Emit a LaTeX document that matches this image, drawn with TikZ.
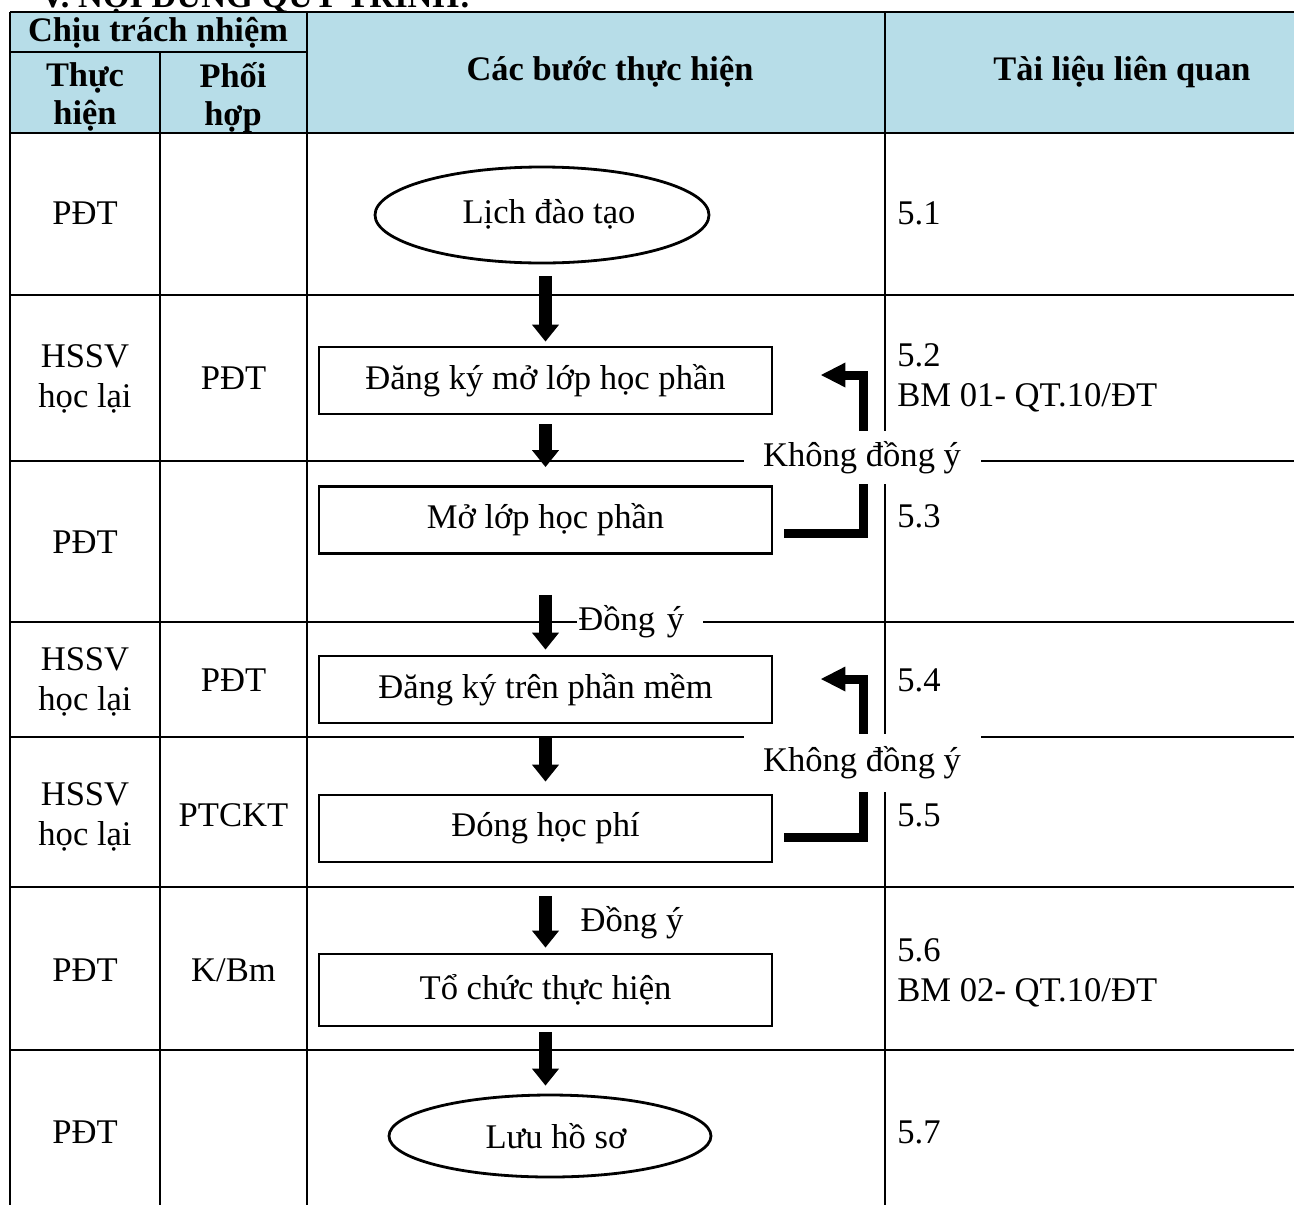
\documentclass[tikz,border=0pt]{standalone}
\usepackage{fontspec}
\setmainfont{Liberation Serif}
\usetikzlibrary{arrows.meta,shapes.geometric}
\definecolor{hdr}{HTML}{B7DDE8}
\begin{document}
\begin{tikzpicture}[x=0.5pt,y=-0.5pt,
  tbl/.style={line width=0.8pt,black},
  txt/.style={font=\fontsize{17.3}{19.8}\selectfont, align=center, inner sep=0pt},
  htxt/.style={font=\bfseries\fontsize{17.2}{19}\selectfont, align=center, inner sep=0pt},
  rtxt/.style={font=\fontsize{17.3}{20}\selectfont, align=left, anchor=west, inner sep=0pt},
  stepbox/.style={draw, line width=1.4pt, rectangle, minimum width=226.5pt, minimum height=33.5pt,
    font=\fontsize{17.3}{19.8}\selectfont, inner sep=0pt},
  term/.style={draw, line width=1.4pt, ellipse, inner sep=0pt, font=\fontsize{17.3}{19.8}\selectfont},
  blk/.style={line width=6.6pt, -{Triangle[width=13pt,length=8.5pt]}},
  fb/.style={line width=4.5pt, line join=miter, -{Triangle[width=11.5pt,length=12.5pt]}},
  lbl/.style={fill=white, inner sep=0pt, font=\fontsize{17.3}{19.8}\selectfont}
]
\useasboundingbox (0,0) rectangle (1294,1205);
% header fill
\fill[hdr] (10,12) rectangle (1294,133);
% title (clipped at top)
\begin{scope}
\clip (0,0) rectangle (1294,11);
\node[anchor=base west, inner sep=0pt, font=\bfseries\fontsize{17.2}{19}\selectfont] (title) at (40,7) {V. NỘI DUNG QUY TRÌNH:};
\end{scope}
% table lines
\draw[tbl] (10,12) -- (1294,12);
\draw[tbl] (10,52) -- (307,52);
\draw[tbl] (10,133) -- (1294,133);
\foreach \yy in {295,461,622,737,887,1050} \draw[tbl] (10,\yy) -- (1294,\yy);
\draw[tbl] (10,12) -- (10,1205);
\draw[tbl] (160,52) -- (160,1205);
\draw[tbl] (307,12) -- (307,1205);
\draw[tbl] (885,12) -- (885,1205);
% header texts
\node[htxt] (h1) at (158,33) {Chịu trách nhiệm};
\node[htxt] (h2) at (85,97) {Thực\\hiện};
\node[htxt] (h3) at (233,98) {Phối\\hợp};
\node[htxt] (h4) at (610,72) {Các bước thực hiện};
\node[htxt] (h5) at (1122,72) {Tài liệu liên quan};
% column 1
\node[txt] (a1) at (85,213) {PĐT};
\node[txt] (a2) at (85,379) {HSSV\\học lại};
\node[txt] (a3) at (85,542) {PĐT};
\node[txt] (a4) at (85,682) {HSSV\\học lại};
\node[txt] (a5) at (85,817) {HSSV\\học lại};
\node[txt] (a6) at (85,970) {PĐT};
\node[txt] (a7) at (85,1132) {PĐT};
% column 2
\node[txt] (b2) at (233.5,378) {PĐT};
\node[txt] (b4) at (233.5,680) {PĐT};
\node[txt] (b5) at (233.5,815) {PTCKT};
\node[txt] (b6) at (233.5,970) {K/Bm};
% column 4
\node[rtxt] (r1) at (897,213) {5.1};
\node[rtxt] (r2) at (897,378) {5.2\\BM 01- QT.10/ĐT};
\node[rtxt] (r3) at (897,516) {5.3};
\node[rtxt] (r4) at (897,680) {5.4};
\node[rtxt] (r5) at (897,815) {5.5};
\node[rtxt] (r6) at (897,973) {5.6\\BM 02- QT.10/ĐT};
\node[rtxt] (r7) at (897,1132) {5.7};
% flow nodes
\node[term, minimum width=167pt, minimum height=48pt] (e1) at (542,215) {};
\node[txt] (e1t) at (549,214) {Lịch đào tạo};
\node[stepbox] (s1) at (545.5,380.5) {Đăng ký mở lớp học phần};
\node[stepbox] (s2) at (545.5,520) {Mở lớp học phần};
\node[stepbox] (s3) at (545.5,689.5) {Đăng ký trên phần mềm};
\node[stepbox] (s4) at (545.5,828.5) {Đóng học phí};
\node[stepbox, minimum height=36pt] (s5) at (545.5,990) {Tổ chức thực hiện};
\node[term, minimum width=161pt, minimum height=41pt] (e2) at (550,1136) {};
\node[txt] (e2t) at (556,1136) {Lưu hồ sơ};
% main arrows
\draw[blk, shorten <=6pt, shorten >=2pt] (e1.south -| s1.north) -- (s1.north);
\draw[blk, shorten <=4.5pt, shorten >=9pt] (s1.south) -- (s2.north);
\draw[blk, shorten <=20pt, shorten >=2.5pt] (s2.south) -- (s3.north);
\draw[blk, shorten <=7pt, shorten >=6pt] (s3.south) -- (s4.north);
\draw[blk, shorten <=16.5pt, shorten >=2.5pt] (s4.south) -- (s5.north);
\draw[blk, shorten <=2.5pt, shorten >=4pt] (s5.south) -- (s5.south |- e2.north);
% feedback loops
\draw[fb] ([shift={(11,13)}]s2.east) -- ++(79,0) |- ([shift={(47,-5.5)}]s1.east);
\draw[fb] ([shift={(11,8.5)}]s4.east) -- ++(79,0) |- ([shift={(47,-10.5)}]s3.east);
% labels
\node[lbl, minimum width=118.5pt, minimum height=26.5pt] (n1) at (862,457.5) {Không đồng ý};
\node[lbl, minimum width=118.5pt, minimum height=29pt] (n2) at (862,763) {Không đồng ý};
\node[lbl, anchor=west, text width=62pt, align=left, inner xsep=0.5pt] (y1) at (577,622) {Đồng ý};
\node[txt] (y2) at (632,923) {Đồng ý};
\end{tikzpicture}
\end{document}
